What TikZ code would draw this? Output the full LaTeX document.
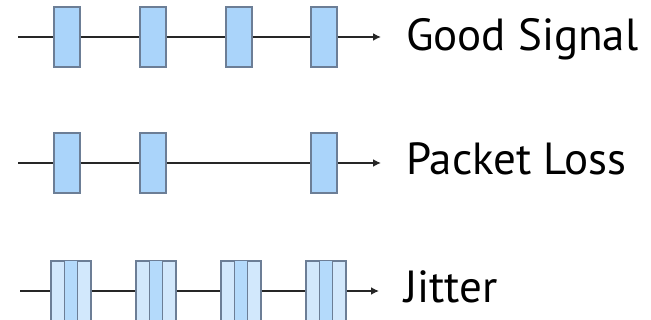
\documentclass[tikz,border=0pt]{standalone}
\usepackage{fontspec}
\setmainfont{PT Sans}
\usetikzlibrary{arrows.meta,calc}
\definecolor{pkt}{HTML}{AAD4FA}
\definecolor{pktlight}{HTML}{D2E8FC}
\definecolor{pktmid}{HTML}{B4DAFB}
\definecolor{edge}{HTML}{6C7E96}
\tikzset{
  pkt/.style={draw=edge, line width=1.3pt, fill=pkt, minimum width=26pt, minimum height=60pt, inner sep=0pt},
  jpkt/.style={draw=edge, line width=1.3pt, fill=pktlight, minimum width=40pt, minimum height=60pt, inner sep=0pt},
  wire/.style={line width=2.2pt, draw=black!85},
  arr/.style={wire, -{Latex[length=8pt,width=8pt]}},
  lbl/.style={anchor=base west, font=\fontsize{45}{48}\selectfont, inner sep=0pt},
}
\begin{document}
\begin{tikzpicture}[x=1pt,y=-1pt]
\useasboundingbox (0,0) rectangle (651,320);
% Row 1: Good Signal
\coordinate (a0) at (18,37);
\coordinate (a5) at (381,37);
\node[pkt] (a1) at (67,37) {};
\node[pkt] (a2) at (153,37) {};
\node[pkt] (a3) at (239,37) {};
\node[pkt] (a4) at (324,37) {};
\draw[wire] (a0) -- (a1.west) (a1.east) -- (a2.west) (a2.east) -- (a3.west) (a3.east) -- (a4.west);
\draw[arr] (a4.east) -- (a5);
\node[lbl] (t1) at (406,51) {Good Signal};
% Row 2: Packet Loss
\coordinate (b0) at (18,163);
\coordinate (b5) at (381,163);
\node[pkt] (b1) at (67,163) {};
\node[pkt] (b2) at (153,163) {};
\node[pkt] (b4) at (324,163) {};
\draw[wire] (b0) -- (b1.west) (b1.east) -- (b2.west) (b2.east) -- (b4.west);
\draw[arr] (b4.east) -- (b5);
\node[lbl] (t2) at (406,175) {Packet Loss};
% Row 3: Jitter
\coordinate (c0) at (20,291);
\coordinate (c5) at (379,291);
\foreach \n/\x in {1/71,2/156,3/241,4/326}{
  \node[jpkt] (c\n) at (\x,291) {};
  \fill[pktmid] ($(c\n.north)+(-6.5,0.6)$) rectangle ($(c\n.south)+(6.5,-0.6)$);
  \draw[edge, line width=1.3pt] ($(c\n.north)+(-6.5,0)$) -- ($(c\n.south)+(-6.5,0)$)
        ($(c\n.north)+(6.5,0)$) -- ($(c\n.south)+(6.5,0)$);
  \draw[edge, line width=1.3pt] (c\n.north west) rectangle (c\n.south east);
}
\draw[wire] (c0) -- (c1.west) (c1.east) -- (c2.west) (c2.east) -- (c3.west) (c3.east) -- (c4.west);
\draw[arr] (c4.east) -- (c5);
\node[lbl] (t3) at (404,303) {Jitter};
\end{tikzpicture}
\end{document}
